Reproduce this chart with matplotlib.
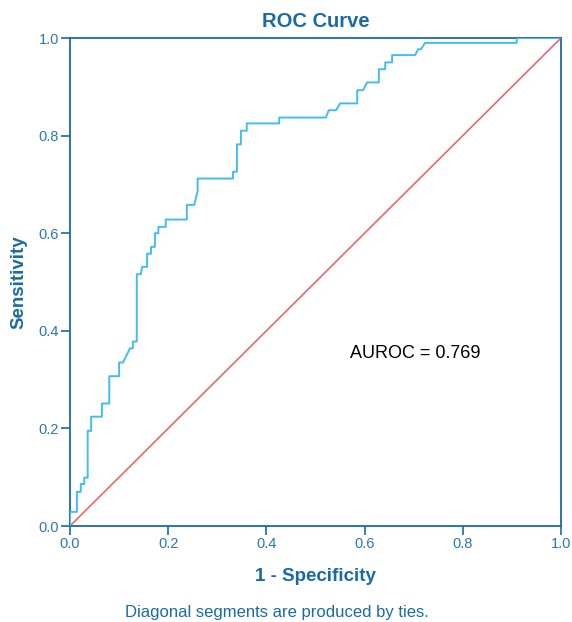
import matplotlib
matplotlib.use("Agg")
import matplotlib.pyplot as plt

# ROC step vertices
fpr = [0.0, 0.0, 0.014, 0.014, 0.022, 0.022, 0.029, 0.029, 0.036, 0.036,
       0.043, 0.043, 0.065, 0.065, 0.080, 0.080, 0.100, 0.100, 0.108, 0.122,
       0.122, 0.128, 0.128, 0.136, 0.136, 0.144, 0.147, 0.157, 0.157, 0.165,
       0.165, 0.173, 0.173, 0.180, 0.180, 0.195, 0.195, 0.238, 0.238, 0.253,
       0.260, 0.260, 0.332, 0.332, 0.340, 0.340, 0.348, 0.348, 0.360, 0.360,
       0.426, 0.426, 0.521, 0.527, 0.542, 0.550, 0.585, 0.585, 0.597, 0.605,
       0.629, 0.629, 0.642, 0.642, 0.656, 0.656, 0.703, 0.709, 0.715, 0.723,
       0.910, 0.910, 1.0]
tpr = [0.0, 0.029, 0.029, 0.070, 0.070, 0.086, 0.086, 0.099, 0.099, 0.195,
       0.195, 0.224, 0.224, 0.251, 0.251, 0.307, 0.307, 0.335, 0.335, 0.364,
       0.364, 0.364, 0.378, 0.378, 0.516, 0.516, 0.531, 0.531, 0.558, 0.558,
       0.572, 0.572, 0.600, 0.600, 0.613, 0.613, 0.628, 0.628, 0.658, 0.658,
       0.687, 0.712, 0.712, 0.726, 0.726, 0.782, 0.782, 0.810, 0.810, 0.825,
       0.825, 0.837, 0.837, 0.852, 0.852, 0.866, 0.866, 0.893, 0.893, 0.909,
       0.909, 0.936, 0.936, 0.950, 0.950, 0.965, 0.965, 0.977, 0.977, 0.990,
       0.990, 1.0, 1.0]
ref = [0.0, 1.0]
auroc = 0.769

plt.rcParams["font.family"] = ["Liberation Sans", "DejaVu Sans"]
BLUE = "#1a6aa6"
TICKBLUE = "#2a78b4"

fig = plt.figure(figsize=(5.72, 6.22), dpi=100)
ax = fig.add_axes([70 / 572, 1 - 526 / 622, 491 / 572, 488 / 622])

ax.plot(fpr, tpr, color="#45bdec", lw=1.4, zorder=3)
ax.plot(ref, ref, color="#e8686c", lw=1.2, zorder=2)

ax.set_xlim(0, 1)
ax.set_ylim(0, 1)
ax.set_xticks([0, 0.2, 0.4, 0.6, 0.8, 1.0])
ax.set_yticks([0, 0.2, 0.4, 0.6, 0.8, 1.0])
ax.xaxis.set_major_formatter(matplotlib.ticker.FormatStrFormatter("%.1f"))
ax.yaxis.set_major_formatter(matplotlib.ticker.FormatStrFormatter("%.1f"))
ax.tick_params(colors=BLUE, labelcolor=TICKBLUE, labelsize=10.5, length=6.5,
               width=1.2, direction="out", pad=1.5)
for s in ax.spines.values():
    s.set_color(BLUE)
    s.set_linewidth(1.3)

ax.set_title("ROC Curve", color=BLUE, fontsize=14.5, fontweight="bold", pad=8)
ax.set_xlabel("1 - Specificity", color=BLUE, fontsize=13.5, fontweight="bold", labelpad=12)
ax.set_ylabel("Sensitivity", color=BLUE, fontsize=13.5, fontweight="bold", labelpad=8)
ax.text(0.57, 0.354, f"AUROC = {auroc}", fontsize=13, color="black", va="center")
fig.text(277 / 572, 1 - 613 / 622, "Diagonal segments are produced by ties.",
         color=BLUE, fontsize=12, ha="center", va="center")

fig.savefig("out.png", dpi=100)
